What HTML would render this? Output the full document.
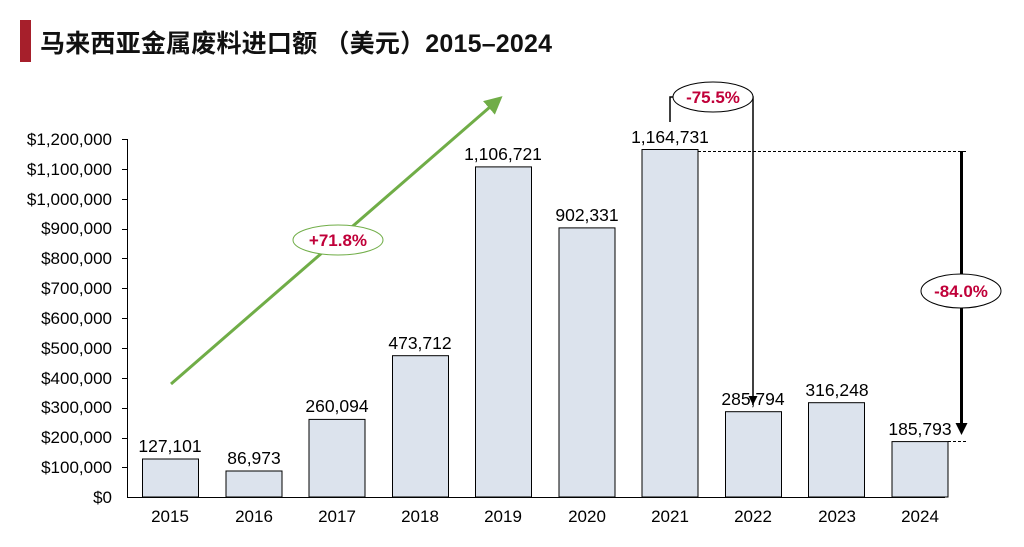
<!DOCTYPE html>
<html><head><meta charset="utf-8"><style>
body{margin:0;background:#fff;}
svg{display:block;font-family:"Liberation Sans","Noto Sans CJK SC",sans-serif;}
</style></head><body>
<svg width="1024" height="547" viewBox="0 0 1024 547">
<defs>
<marker id="ga" markerWidth="6" markerHeight="6" refX="4" refY="3" orient="auto" markerUnits="strokeWidth"><path d="M0,0 L6,3 L0,6 z" fill="#70ad47"/></marker>
<marker id="ka" markerWidth="6" markerHeight="6" refX="4" refY="3" orient="auto" markerUnits="strokeWidth"><path d="M0,0 L6,3 L0,6 z" fill="#000"/></marker>
<marker id="kb" markerWidth="4" markerHeight="4" refX="3" refY="2" orient="auto" markerUnits="strokeWidth"><path d="M0,0 L4,2 L0,4 z" fill="#000"/></marker>
</defs>
<rect x="20" y="20" width="11" height="42" fill="#a61f2b"/>
<text x="40" y="52" font-size="25" font-weight="bold" fill="#111" textLength="512">马来西亚金属废料进口额 （美元）2015–2024</text>
<g font-size="17" fill="#000" text-anchor="end">
<text x="112" y="503">$0</text>
<text x="112" y="473">$100,000</text>
<text x="112" y="443">$200,000</text>
<text x="112" y="413">$300,000</text>
<text x="112" y="384">$400,000</text>
<text x="112" y="354">$500,000</text>
<text x="112" y="324">$600,000</text>
<text x="112" y="294">$700,000</text>
<text x="112" y="264">$800,000</text>
<text x="112" y="234">$900,000</text>
<text x="112" y="205">$1,000,000</text>
<text x="112" y="175">$1,100,000</text>
<text x="112" y="145">$1,200,000</text>
</g>
<g stroke="#000" stroke-width="1">
<line x1="127.5" y1="139" x2="127.5" y2="497"/>
<line x1="127" y1="497.5" x2="945" y2="497.5"/>
<path d="M122,139.5h5M122,169.5h5M122,199.5h5M122,229.5h5M122,258.5h5M122,288.5h5M122,318.5h5M122,348.5h5M122,378.5h5M122,408.5h5M122,438.5h5M122,467.5h5"/>
</g>
<g fill="#dce3ed" stroke="#000" stroke-width="1">
<rect x="142.5" y="459" width="56" height="38"/>
<rect x="226" y="471" width="56" height="26"/>
<rect x="309" y="419.4" width="56" height="77.6"/>
<rect x="392.5" y="355.7" width="56" height="141.3"/>
<rect x="475.5" y="166.9" width="56" height="330.1"/>
<rect x="559" y="227.9" width="56" height="269.1"/>
<rect x="642" y="149.5" width="56" height="347.5"/>
<rect x="725.5" y="411.7" width="56" height="85.3"/>
<rect x="808.5" y="402.7" width="56" height="94.3"/>
<rect x="892" y="441.6" width="56" height="55.4"/>
</g>
<g font-size="17.5" fill="#000" text-anchor="middle">
<text x="170" y="452">127,101</text>
<text x="254" y="464">86,973</text>
<text x="337" y="412">260,094</text>
<text x="420" y="349">473,712</text>
<text x="503" y="160">1,106,721</text>
<text x="587" y="221">902,331</text>
<text x="670" y="143">1,164,731</text>
<text x="753" y="405">285,794</text>
<text x="837" y="396">316,248</text>
<text x="920" y="435">185,793</text>
</g>
<g font-size="17" fill="#000" text-anchor="middle">
<text x="170" y="522">2015</text><text x="254" y="522">2016</text><text x="337" y="522">2017</text><text x="420" y="522">2018</text><text x="503" y="522">2019</text><text x="587" y="522">2020</text><text x="670" y="522">2021</text><text x="753" y="522">2022</text><text x="837" y="522">2023</text><text x="920" y="522">2024</text>
</g>
<line x1="171" y1="384" x2="498" y2="100" stroke="#70ad47" stroke-width="3" marker-end="url(#ga)"/>
<ellipse cx="338" cy="240" rx="45" ry="15" fill="#fff" stroke="#70ad47" stroke-width="1"/>
<text x="338" y="246" font-size="17" font-weight="bold" fill="#c00039" text-anchor="middle">+71.8%</text>
<path d="M670,122 V97 H753 V402" fill="none" stroke="#000" stroke-width="1.5" marker-end="url(#ka)"/>
<ellipse cx="713" cy="97" rx="40" ry="15" fill="#fff" stroke="#000" stroke-width="1"/>
<text x="713" y="103" font-size="17" font-weight="bold" fill="#c00039" text-anchor="middle">-75.5%</text>
<line x1="698" y1="151.5" x2="966" y2="151.5" stroke="#000" stroke-width="1" stroke-dasharray="3,2"/>
<line x1="948" y1="441.5" x2="966" y2="441.5" stroke="#000" stroke-width="1" stroke-dasharray="3,2"/>
<line x1="961.5" y1="151" x2="961.5" y2="432" stroke="#000" stroke-width="3" marker-end="url(#kb)"/>
<ellipse cx="961" cy="291" rx="40" ry="17" fill="#fff" stroke="#000" stroke-width="1"/>
<text x="961" y="297" font-size="17" font-weight="bold" fill="#c00039" text-anchor="middle">-84.0%</text>
</svg>
</body></html>
